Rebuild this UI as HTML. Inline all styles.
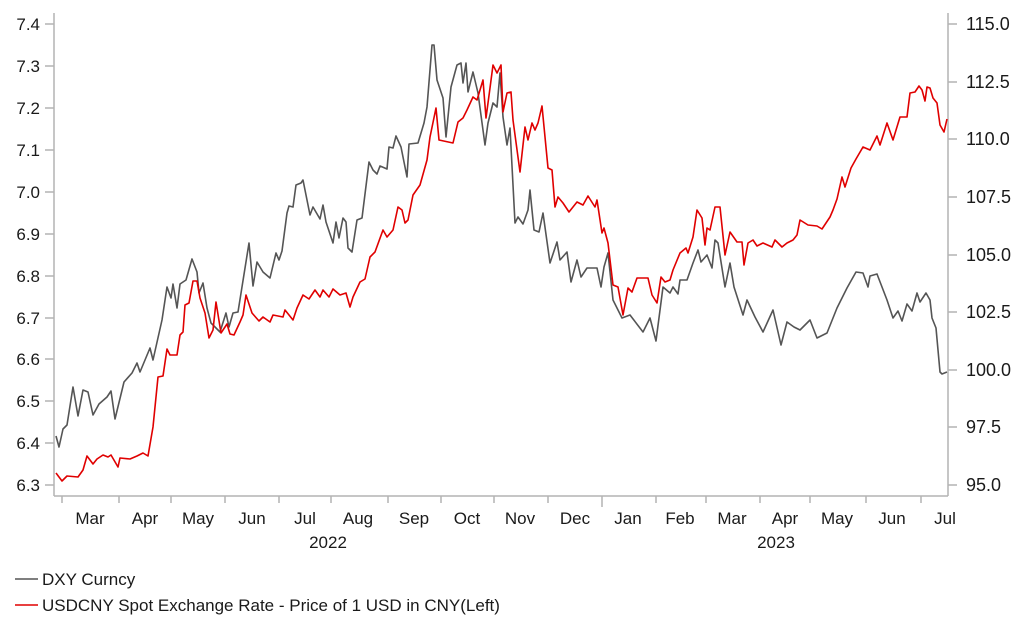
<!DOCTYPE html>
<html><head><style>
body{margin:0;background:#fff;}
svg{display:block;font-family:"Liberation Sans",Arial,sans-serif;font-size:17px;fill:#1a1a1a;}
</style></head><body>
<svg width="1022" height="638" viewBox="0 0 1022 638">
<g stroke="#b3b3b3" stroke-width="1.5" fill="none">
<line x1="54" y1="13" x2="54" y2="496"/>
<line x1="54" y1="496" x2="948" y2="496"/>
<line x1="948" y1="13" x2="948" y2="496"/>
<path d="M45 24H54M45 66H54M45 108H54M45 150H54M45 192H54M45 234H54M45 276H54M45 318H54M45 359H54M45 401H54M45 443H54M45 485H54"/>
<path d="M948 24H957M948 82H957M948 139H957M948 197H957M948 255H957M948 312H957M948 370H957M948 427H957M948 485H957"/>
<path d="M62 496V503M119 496V503M171 496V503M225 496V503M279 496V503M331 496V503M388 496V503M441 496V503M494 496V503M548 496V503M602 496V507M656 496V503M706 496V503M760 496V503M810 496V503M866 496V503M921 496V503"/>
</g>
<g text-anchor="end">
<text x="40" y="30">7.4</text><text x="40" y="72">7.3</text><text x="40" y="114">7.2</text><text x="40" y="156">7.1</text><text x="40" y="198">7.0</text><text x="40" y="240">6.9</text><text x="40" y="282">6.8</text><text x="40" y="324">6.7</text><text x="40" y="365">6.6</text><text x="40" y="407">6.5</text><text x="40" y="449">6.4</text><text x="40" y="491">6.3</text>
</g>
<g style="font-size:18px">
<text x="966" y="30">115.0</text><text x="966" y="88">112.5</text><text x="966" y="145">110.0</text><text x="966" y="203">107.5</text><text x="966" y="261">105.0</text><text x="966" y="318">102.5</text><text x="966" y="376">100.0</text><text x="966" y="433">97.5</text><text x="966" y="491">95.0</text>
</g>
<g text-anchor="middle">
<text x="90" y="524">Mar</text><text x="145" y="524">Apr</text><text x="198" y="524">May</text><text x="252" y="524">Jun</text><text x="305" y="524">Jul</text><text x="358" y="524">Aug</text><text x="414" y="524">Sep</text><text x="467" y="524">Oct</text><text x="520" y="524">Nov</text><text x="575" y="524">Dec</text><text x="628" y="524">Jan</text><text x="680" y="524">Feb</text><text x="732" y="524">Mar</text><text x="785" y="524">Apr</text><text x="837" y="524">May</text><text x="892" y="524">Jun</text><text x="945" y="524">Jul</text>
<text x="328" y="548">2022</text><text x="776" y="548">2023</text>
</g>
<polyline fill="none" stroke="#555" stroke-width="1.6" stroke-linejoin="round" points="56,436 59,447 63,429 67,425 73,387 78,416 83,390 88,392 93,415 99,404 107,397 111,391 115,419 124,382 132,373 137,363 140,372 150,348 153,360 162,320 167,287 171,298 173,284 177,308 180,284 186,280 192,259 197,272 199,293 203,283 207,308 211,323 220,332 226,313 229,327 233,313 238,312 249,243 253,286 257,262 263,272 270,278 276,253 279,260 282,251 287,213 289,206 293,207 296,185 301,183 303,180 310,215 313,207 320,219 323,205 326,222 333,243 336,222 339,238 343,218 346,222 348,248 352,252 357,220 362,218 369,162 373,170 377,174 380,166 387,169 389,147 393,148 396,136 401,147 407,177 409,144 418,143 424,123 427,107 432,45 434,45 437,80 443,98 446,137 451,87 457,65 461,63 463,83 466,63 468,92 473,72 478,93 485,145 488,123 493,103 497,107 500,73 503,117 507,145 510,128 515,223 518,217 523,224 528,210 530,190 534,230 539,232 543,213 550,263 557,242 560,260 567,252 571,282 577,260 581,277 587,268 597,268 601,287 604,267 608,253 613,300 622,318 630,315 643,332 650,318 656,341 663,287 670,293 673,287 678,294 680,280 687,280 693,263 698,250 701,262 707,255 712,268 715,240 718,243 725,287 730,263 734,287 743,315 747,300 755,317 763,332 773,310 781,345 787,322 794,327 800,330 810,320 817,338 827,333 837,308 847,288 856,272 863,273 868,287 870,276 877,274 887,300 893,318 898,311 902,321 907,304 912,311 917,293 920,302 926,293 930,300 932,318 936,328 940,372 942,374 947,372"/>
<polyline fill="none" stroke="#e00000" stroke-width="1.6" stroke-linejoin="round" points="56,473 62,481 67,476 78,477 83,470 87,456 93,464 97,459 103,455 108,457 111,455 118,467 120,458 130,459 137,456 143,453 148,456 153,427 158,377 163,376 167,349 170,355 177,355 180,335 183,332 185,305 189,303 193,281 197,281 200,298 205,313 209,338 213,330 216,302 221,333 227,324 230,334 234,335 240,322 243,315 246,295 252,313 259,321 263,317 270,322 273,315 283,317 285,310 293,320 297,308 303,295 309,299 315,290 320,297 323,290 329,297 333,289 340,295 346,293 350,307 353,297 360,282 365,279 370,257 375,252 383,230 387,237 393,230 398,207 402,210 405,223 408,220 413,195 420,185 427,160 430,137 436,108 439,140 453,143 458,122 463,118 467,110 473,97 477,100 483,80 486,118 490,88 493,65 497,73 501,65 503,112 507,93 511,92 513,120 520,172 525,127 528,140 532,123 535,130 538,123 542,106 548,168 552,170 555,207 558,197 563,203 569,212 577,202 583,205 588,196 595,207 597,200 602,233 604,228 608,243 613,285 618,287 623,315 628,288 632,292 637,278 648,278 652,295 657,303 661,277 665,282 670,280 673,270 680,253 686,248 688,253 693,237 697,210 702,218 705,245 707,228 710,230 715,207 720,207 725,255 730,232 737,242 742,242 744,265 748,243 753,240 757,246 763,243 772,247 775,240 782,247 787,243 793,240 797,235 800,220 808,225 817,226 822,229 830,217 833,210 837,199 842,177 845,187 851,168 856,159 863,147 870,150 877,136 880,145 887,123 893,140 900,117 907,117 910,93 915,92 919,86 922,90 925,101 927,87 930,88 933,98 937,103 940,125 944,132 947,119"/>
<line x1="15" y1="579" x2="38" y2="579" stroke="#555" stroke-width="1.6"/>
<text x="42" y="585">DXY Curncy</text>
<line x1="15" y1="605" x2="38" y2="605" stroke="#e00000" stroke-width="1.6"/>
<text x="42" y="611">USDCNY Spot Exchange Rate - Price of 1 USD in CNY(Left)</text>
</svg>
</body></html>
